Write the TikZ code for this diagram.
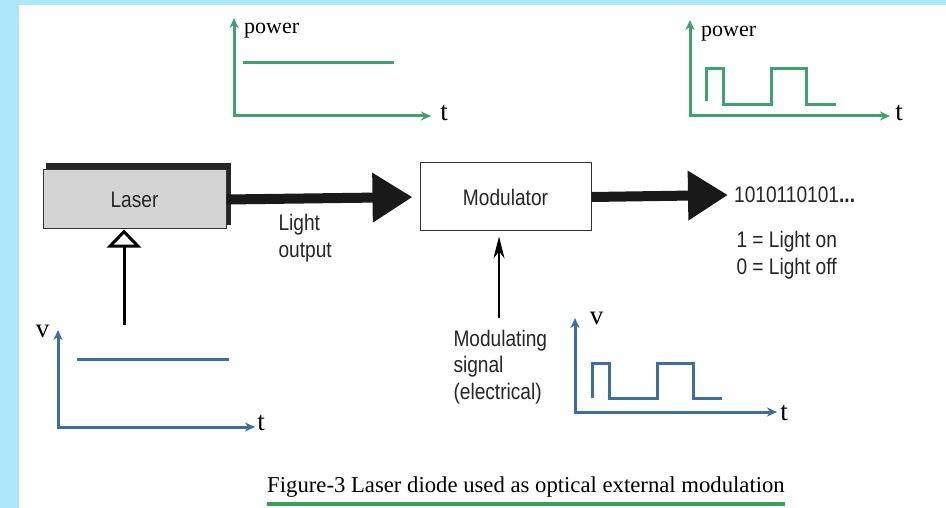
\documentclass[tikz,border=0pt]{standalone}
\usepackage{fontspec}
\setmainfont{Liberation Serif}
\newfontfamily\narrowsans[FakeStretch=0.85]{Liberation Sans}
\definecolor{lbblue}{HTML}{AEE6FB}
\definecolor{lbgreen}{HTML}{3FA070}
\definecolor{lbsteel}{HTML}{3D6E9E}
\definecolor{lbrule}{HTML}{3DA05A}
\definecolor{lbgrey}{HTML}{D4D4D4}
\usetikzlibrary{arrows.meta}

\begin{document}
\begin{tikzpicture}[x=1pt,y=-1pt,
  sf/.style={font=\narrowsans\fontsize{22.5}{26.5}\selectfont,text=black!85},
  rm/.style={font=\fontsize{22}{26}\selectfont,inner sep=0pt},
  ax/.style={line width=3pt,{Stealth[length=10pt,width=9pt]}-{Stealth[length=10pt,width=9pt]}},
  axl/.style={font=\fontsize{27}{30}\selectfont,inner sep=0pt},
  big/.style={line width=10pt,black!90,-{Triangle[length=40pt,width=47pt]}},
  sig/.style={line width=3pt}]
  \useasboundingbox (0,0) rectangle (946,508);
  \fill[lbblue] (0,0) rectangle (946,508);
  \fill[white] (19,5) rectangle (946,508);
  % laser and modulator
  \fill[black!85] (46,163) rectangle (231,225);
  \node[sf,draw=black!80,line width=1pt,fill=lbgrey,minimum width=183pt,minimum height=59pt] (laser) at (134.5,199.5) {Laser};
  \node[sf,draw=black!80,line width=1pt,fill=white,minimum width=171pt,minimum height=68pt] (mod) at (505.5,197) {Modulator};
  \node[sf,anchor=west,inner xsep=6pt] (bits) at (728,195) {1010110101\textbf{...}};
  \draw[big,shorten >=7pt] (laser.east) -- (mod.west);
  \draw[big] (mod.east) -- (bits.west);
  \node[sf,anchor=west,align=left] (lout) at (275,238) {Light\\output};
  \node[sf,anchor=west,align=left] (key) at (733,255) {1 = Light on\\0 = Light off};
  % drive inputs
  \coordinate (drv) at (124,325);
  \draw[line width=3pt,-{Triangle[fill=white,length=18pt,width=34pt]}] (drv) -- (drv |- laser.south);
  \coordinate (msg) at (499,318);
  \draw[line width=1.5pt,shorten >=5pt,-{Stealth[length=22pt,width=11pt]}] (msg) -- (msg |- mod.south);
  \node[sf,anchor=west,align=left] (mlbl) at (450,367) {Modulating\\signal\\(electrical)};
  % optical power, before and after
  \draw[ax,lbgreen] (234,18) |- (431,116);
  \draw[sig,lbgreen] (243,63) -- (394,63);
  \node[rm,anchor=west] (p1) at (244,31) {power};
  \node[axl] (t1) at (444,113) {t};
  \draw[ax,lbgreen] (690,20) |- (890,116);
  \draw[sig,lbgreen] (706,101) |- (723,69) |- (771,105) |- (806,69) |- (836,105);
  \node[rm,anchor=west] (p2) at (701,34) {power};
  \node[axl] (t2) at (899,113) {t};
  % electrical drive voltages
  \draw[ax,lbsteel] (58,330) |- (255,427);
  \draw[sig,lbsteel] (77,359) -- (229,359);
  \node[axl] (v3) at (42.5,331.5) {v};
  \node[axl] (t3) at (261,423.5) {t};
  \draw[ax,lbsteel] (575,318) |- (777,412);
  \draw[sig,lbsteel] (592,398) |- (609,363) |- (657,398) |- (693,363) |- (722,398);
  \node[axl] (v4) at (596.5,318.5) {v};
  \node[axl] (t4) at (784,413) {t};
  % caption
  \node[rm,font=\fontsize{22.7}{26}\selectfont] (cap) at (526,487) {Figure-3 Laser diode used as optical external modulation};
  \draw[lbrule,line width=4pt] ([yshift=-6pt]cap.south west) -- ([yshift=-6pt]cap.south east);
\end{tikzpicture}
\end{document}
